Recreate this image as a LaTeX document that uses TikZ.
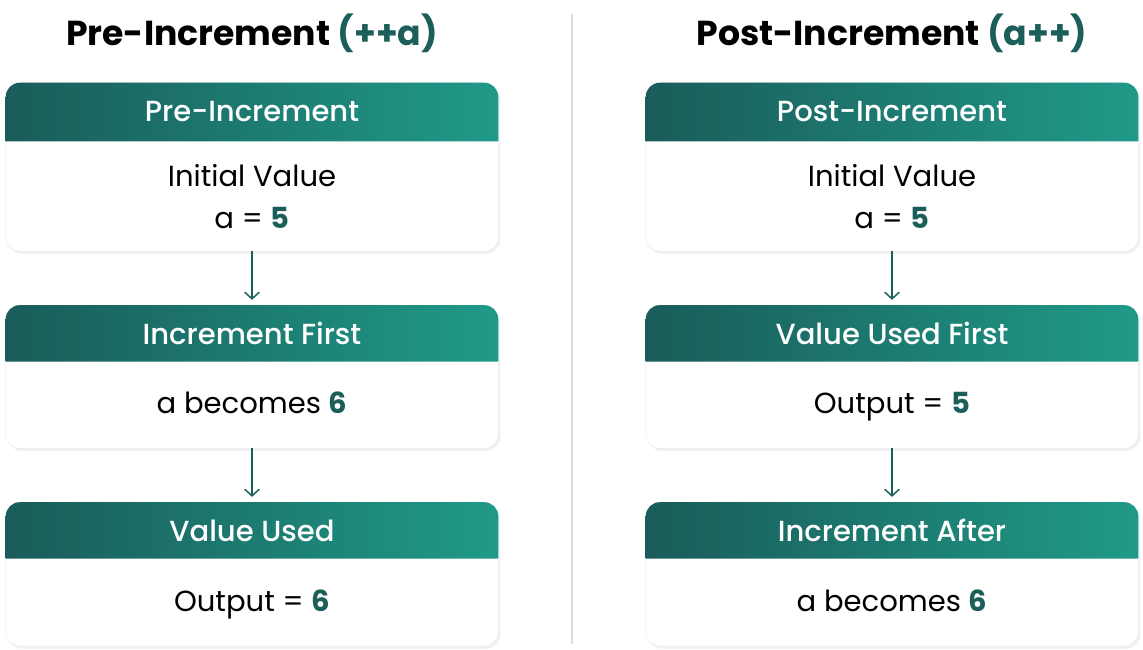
\documentclass[tikz,border=0pt]{standalone}
\usepackage{fontspec}
\setmainfont{Poppins}
\newfontfamily\hdrfont{Poppins Medium}
\usetikzlibrary{positioning,shadows,backgrounds,arrows.meta}
\definecolor{hdrdark}{HTML}{1A5C5A}
\definecolor{hdrlight}{HTML}{1F9A88}
\definecolor{numteal}{HTML}{1C5E5A}
\definecolor{divgray}{HTML}{DCDCDC}
\newcommand{\num}[1]{\textbf{\color{numteal}#1}}
\tikzset{
	title/.style = {font=\fontsize{26}{30}\selectfont\bfseries},
	hdr/.style = {text=white, minimum width=369pt, minimum height=42pt,
	 inner sep=0pt, font=\hdrfont\fontsize{21.8}{24}\selectfont},
	body/.style = {minimum width=369pt, inner sep=0pt, align=center,
	 font=\fontsize{21.8}{31.5}\selectfont},
	onebody/.style = {body, minimum height=64.5pt, text height=18.5pt, text depth=5pt},
	cardbg/.style = {rounded corners=10.5pt, fill=white, draw=black!6,
	 drop shadow={opacity=0.12, shadow xshift=1.5pt, shadow yshift=-2pt}},
	hdrshade/.style = {left color=hdrdark, right color=hdrlight},
	flow/.style = {numteal, line width=1.1pt, shorten >=4pt,
	 -{Straight Barb[length=5pt, width=11pt]}}
}

\begin{document}
\begin{tikzpicture}[x=0.75pt, y=-0.75pt, node distance=40.5pt]
\useasboundingbox (0,0) rectangle (1143,650);

% NODES
% titles
\node (pretitle) [title] at (252,33) {Pre-Increment \textcolor{numteal}{(++a)}};
\node (posttitle) [title] at (892,33) {Post-Increment \textcolor{numteal}{(a++)}};
% pre-increment column
\node (hdrA1) [hdr, minimum height=43.5pt] at (252,112) {Pre-Increment};
\node (bodyA1) [body, minimum height=82pt, below=0pt of hdrA1] {Initial Value\\a = \num{5}};
\node (hdrA2) [hdr, below=of bodyA1] {Increment First};
\node (bodyA2) [onebody, below=0pt of hdrA2] {a becomes \num{6}};
\node (hdrA3) [hdr, below=of bodyA2] {Value Used};
\node (bodyA3) [onebody, minimum height=65pt, below=0pt of hdrA3] {Output = \num{6}};
% post-increment column
\node (hdrB1) [hdr, minimum height=43.5pt] at (892,112) {Post-Increment};
\node (bodyB1) [body, minimum height=82pt, below=0pt of hdrB1] {Initial Value\\a = \num{5}};
\node (hdrB2) [hdr, below=of bodyB1] {Value Used First};
\node (bodyB2) [onebody, below=0pt of hdrB2] {Output = \num{5}};
\node (hdrB3) [hdr, below=of bodyB2] {Increment After};
\node (bodyB3) [onebody, minimum height=65pt, below=0pt of hdrB3] {a becomes \num{6}};

% card backgrounds
\begin{scope}[on background layer]
\foreach \c in {A1,A2,A3,B1,B2,B3} {
	\path [cardbg] (hdr\c.north west) rectangle (body\c.south east);
	\shade [hdrshade] (hdr\c.south west) [rounded corners=10.5pt] -- (hdr\c.north west)
	 -- (hdr\c.north east) [sharp corners] -- (hdr\c.south east) -- cycle;
}
\end{scope}

% divider
\coordinate (divtop) at (572,14);
\coordinate (divbot) at (572,644);
\draw [divgray, line width=1.2pt] (divtop) -- (divbot);

%CONNECTIONS
\draw [flow] (bodyA1) -- (hdrA2);
\draw [flow] (bodyA2) -- (hdrA3);
\draw [flow] (bodyB1) -- (hdrB2);
\draw [flow] (bodyB2) -- (hdrB3);

\end{tikzpicture}
\end{document}
